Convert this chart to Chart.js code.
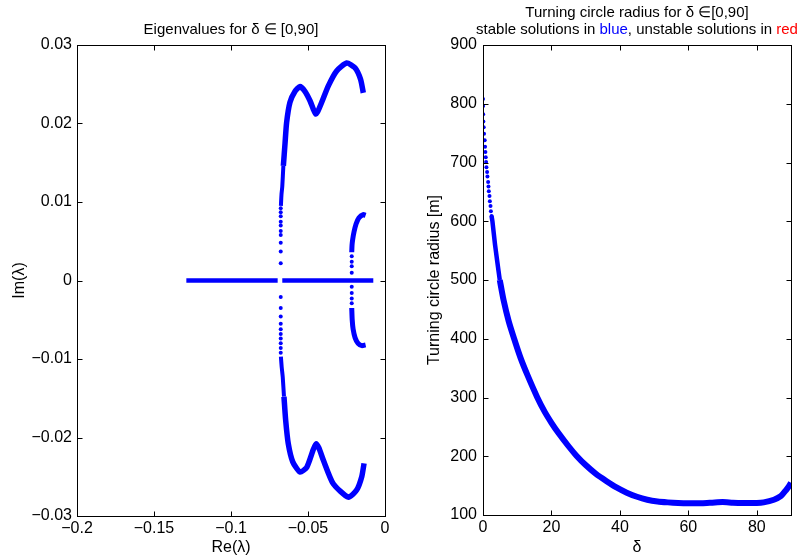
<!DOCTYPE html>
<html>
<head>
<meta charset="utf-8">
<script src="https://cdn.jsdelivr.net/npm/chart.js@4/dist/chart.umd.min.js"></script>
<style>
  body { margin: 0; background: #fff; }
  #wrap { position: relative; width: 798px; height: 558px; overflow: hidden; }
  #left { position: absolute; left: 0; top: 0; }
  #right { position: absolute; left: 400px; top: 0; }
</style>
</head>
<body>
<div id="wrap">
  <canvas id="left" width="400" height="558"></canvas>
  <canvas id="right" width="398" height="558"></canvas>
</div>
<script>
// ---- left plot: eigenvalues (Re, Im) ----
const realA_re = [-0.129, -0.0697];
const realA_im = [0, 0];
const realB_re = [-0.0667, -0.0076];
const realB_im = [0, 0];

const bigUpDots_re = [-0.0677, -0.0677, -0.0677, -0.0677, -0.0677, -0.0677, -0.0677, -0.0677, -0.0677, -0.0677];
const bigUpDots_im = [0.0022, 0.0037, 0.0048, 0.0058, 0.0063, 0.0070, 0.0075, 0.0082, 0.0087, 0.0092];
const bigUpThin_re = [-0.0676, -0.0672, -0.0667, -0.0660];
const bigUpThin_im = [0.0095, 0.0110, 0.0120, 0.0146];
const bigUp_re = [-0.0660, -0.0649, -0.0639, -0.0617, -0.0584, -0.0552, -0.0520, -0.0487, -0.0465, -0.0450, -0.0435, -0.0411, -0.0368, -0.0314, -0.0249, -0.0195, -0.0158, -0.0141];
const bigUp_im = [0.0146, 0.0175, 0.0201, 0.0227, 0.0241, 0.0247, 0.0241, 0.0229, 0.0218, 0.0212, 0.0216, 0.0227, 0.0248, 0.0267, 0.0277, 0.0271, 0.0256, 0.0239];

const bigLoDots_re = [-0.0677, -0.0677, -0.0677, -0.0677, -0.0677, -0.0677, -0.0677, -0.0677, -0.0677, -0.0677];
const bigLoDots_im = [-0.0021, -0.0035, -0.0046, -0.0055, -0.0062, -0.0068, -0.0074, -0.0080, -0.0086, -0.0092];
const bigLoThin_re = [-0.0676, -0.0671, -0.0664, -0.0656];
const bigLoThin_im = [-0.0097, -0.0110, -0.0123, -0.0148];
const bigLo_re = [-0.0656, -0.0645, -0.0628, -0.0599, -0.0552, -0.0508, -0.0465, -0.0448, -0.0430, -0.0400, -0.0336, -0.0238, -0.0184, -0.0151, -0.0136];
const bigLo_im = [-0.0148, -0.0178, -0.0208, -0.0231, -0.0244, -0.0238, -0.0215, -0.0208, -0.0213, -0.0229, -0.0259, -0.0276, -0.0267, -0.0250, -0.0233];

const smallUpDots_re = [-0.0216, -0.0216, -0.0216, -0.0216];
const smallUpDots_im = [0.0010, 0.0018, 0.0024, 0.0031];
const smallUp_re = [-0.0216, -0.0214, -0.0210, -0.0201, -0.0188, -0.0169, -0.0141, -0.0126];
const smallUp_im = [0.0036, 0.0045, 0.0052, 0.0062, 0.0072, 0.0080, 0.0084, 0.0083];

const smallLoDots_re = [-0.0216, -0.0216, -0.0216, -0.0216];
const smallLoDots_im = [-0.0008, -0.0016, -0.0023, -0.0029];
const smallLo_re = [-0.0216, -0.0213, -0.0207, -0.0194, -0.0175, -0.0150, -0.0126];
const smallLo_im = [-0.0035, -0.0050, -0.0062, -0.0073, -0.0080, -0.0083, -0.0082];

const leftXTicks = [-0.2, -0.15, -0.1, -0.05, 0];
const leftXLabels = ['\u22120.2', '\u22120.15', '\u22120.1', '\u22120.05', '0'];
const leftYTicks = [-0.03, -0.02, -0.01, 0, 0.01, 0.02, 0.03];
const leftYLabels = ['\u22120.03', '\u22120.02', '\u22120.01', '0', '0.01', '0.02', '0.03'];

// ---- right plot: turning circle radius vs delta ----
const dotsDelta = [0, 0.02, 0.05, 0.1, 0.2, 0.3, 0.5, 0.6, 0.7, 0.8, 0.9, 1.0, 1.2, 1.3, 1.5, 1.6, 1.7, 1.9, 2.0, 2.2, 2.3, 2.5];
const dotsRadius = [808, 796, 782, 770, 760, 749, 738, 727, 718, 709, 701, 692, 684, 676, 667, 659, 651, 643, 634, 626, 617, 609];
const thinDelta = [2.5, 2.75, 3.5, 4.2, 4.9];
const thinRadius = [609, 600, 561, 530, 500];
const curveDelta = [4.9, 6, 7.5, 9.1, 11, 13, 15.8, 18, 20, 22, 25, 27.3, 30, 33, 36, 39, 42, 45, 48, 51, 54, 57, 60, 64, 67, 70, 73, 76, 80, 82, 85, 87, 88.5, 89.5, 90];
const curveRadius = [500, 466, 430, 400, 367, 338, 301, 276, 257, 240, 217, 201, 185, 170, 158, 147, 138, 131, 126, 123, 121.5, 120.5, 120, 120, 121, 122, 121, 120.5, 120.5, 121.5, 126, 132, 142, 150, 155];

const rightXTicks = [0, 20, 40, 60, 80];
const rightXLabels = ['0', '20', '40', '60', '80'];
const rightYTicks = [100, 200, 300, 400, 500, 600, 700, 800, 900];
const rightYLabels = ['100', '200', '300', '400', '500', '600', '700', '800', '900'];

const BLUE = '#0000ff';
const FONT = 'Liberation Sans, Arial, sans-serif';

function pts(xs, ys) {
    return xs.map((x, i) => ({ x: x, y: ys[i] }));
}
function dots(xs, ys) {
    return { data: pts(xs, ys), showLine: false, pointRadius: 2, pointBackgroundColor: BLUE, pointBorderWidth: 0 };
}
function curve(xs, ys, w) {
    return {
        data: pts(xs, ys), showLine: true, borderColor: BLUE, borderWidth: w,
        borderCapStyle: 'butt', borderJoinStyle: 'round', tension: 0.2,
        pointRadius: 0
    };
}

// box and inner tick marks, MATLAB style
const framePlugin = {
    id: 'frame',
    afterDraw(chart) {
        const ctx = chart.ctx;
        const a = chart.chartArea;
        const L = Math.round(a.left) + 0.5, R = Math.round(a.right) + 0.5;
        const T = Math.round(a.top) + 0.5, B = Math.round(a.bottom) + 0.5;
        ctx.save();
        ctx.strokeStyle = '#000';
        ctx.lineWidth = 1;
        ctx.beginPath();
        chart.scales.x.ticks.forEach(t => {
            const px = Math.round(chart.scales.x.getPixelForValue(t.value)) + 0.5;
            ctx.moveTo(px, B); ctx.lineTo(px, B - 5);
            ctx.moveTo(px, T); ctx.lineTo(px, T + 5);
        });
        chart.scales.y.ticks.forEach(t => {
            const py = Math.round(chart.scales.y.getPixelForValue(t.value)) + 0.5;
            ctx.moveTo(L, py); ctx.lineTo(L + 5, py);
            ctx.moveTo(R, py); ctx.lineTo(R - 5, py);
        });
        ctx.stroke();
        ctx.strokeRect(L, T, R - L, B - T);
        ctx.restore();
    }
};

// multi-coloured titles centred over the plot box
const titlePlugin = {
    id: 'matTitle',
    afterDraw(chart, args, opts) {
        const ctx = chart.ctx;
        const cx = (chart.chartArea.left + chart.chartArea.right) / 2;
        ctx.save();
        ctx.font = '15px ' + FONT;
        ctx.textBaseline = 'middle';
        ctx.textAlign = 'left';
        opts.lines.forEach((segs, i) => {
            const total = segs.reduce((s, g) => s + ctx.measureText(g[0]).width, 0);
            let x = cx - total / 2;
            segs.forEach(g => {
                ctx.fillStyle = g[1];
                ctx.fillText(g[0], x, opts.ys[i]);
                x += ctx.measureText(g[0]).width;
            });
        });
        ctx.restore();
    }
};

function axis(min, max, ticks, labels, fitSize, isX, title, titlePad, tickPad) {
    return {
        type: 'linear', min: min, max: max,
        afterBuildTicks: s => { s.ticks = ticks.map(v => ({ value: v })); },
        afterFit: s => { if (isX) s.height = fitSize; else s.width = fitSize; },
        grid: { display: false, drawTicks: false },
        border: { display: false },
        ticks: {
            autoSkip: false, maxRotation: 0, padding: tickPad,
            color: '#000', font: { family: FONT, size: 16 },
            callback: (v, i) => labels[i]
        },
        title: {
            display: true, text: title, color: '#000',
            font: { family: FONT, size: 16 }, padding: titlePad
        }
    };
}

new Chart(document.getElementById('left'), {
    type: 'scatter',
    data: {
        datasets: [
            curve(realA_re, realA_im, 4.5),
            curve(realB_re, realB_im, 4.5),
            dots(bigUpDots_re, bigUpDots_im),
            curve(bigUpThin_re, bigUpThin_im, 4),
            curve(bigUp_re, bigUp_im, 5.5),
            dots(bigLoDots_re, bigLoDots_im),
            curve(bigLoThin_re, bigLoThin_im, 4),
            curve(bigLo_re, bigLo_im, 5.5),
            dots(smallUpDots_re, smallUpDots_im),
            curve(smallUp_re, smallUp_im, 5),
            dots(smallLoDots_re, smallLoDots_im),
            curve(smallLo_re, smallLo_im, 5)
        ]
    },
    options: {
        responsive: false, animation: false,
        layout: { padding: { left: 0, right: 15, top: 45, bottom: 0 } },
        plugins: {
            legend: { display: false }, tooltip: { enabled: false },
            matTitle: { lines: [[['Eigenvalues for \u03b4 \u2208 [0,90]', '#000']]], ys: [30] }
        },
        scales: {
            x: axis(-0.2, 0, leftXTicks, leftXLabels, 42, true, 'Re(\u03bb)', { top: 0, bottom: 1 }, 3),
            y: axis(-0.03, 0.03, leftYTicks, leftYLabels, 77, false, 'Im(\u03bb)', { top: 10, bottom: 0 }, 5)
        }
    },
    plugins: [framePlugin, titlePlugin]
});

new Chart(document.getElementById('right'), {
    type: 'scatter',
    data: {
        datasets: [
            dots(dotsDelta, dotsRadius),
            curve(thinDelta, thinRadius, 4.5),
            curve(curveDelta, curveRadius, 6)
        ]
    },
    options: {
        responsive: false, animation: false,
        layout: { padding: { left: 0, right: 7, top: 45, bottom: 0 } },
        plugins: {
            legend: { display: false }, tooltip: { enabled: false },
            matTitle: {
                lines: [
                    [['Turning circle radius for \u03b4 \u2208[0,90]', '#000']],
                    [['stable solutions in ', '#000'], ['blue', '#0000ff'], [', unstable solutions in ', '#000'], ['red', '#ff0000']]
                ],
                ys: [13, 30]
            }
        },
        scales: {
            x: axis(0, 90, rightXTicks, rightXLabels, 43, true, '\u03b4', { top: 0, bottom: 1 }, 3),
            y: axis(100, 900, rightYTicks, rightYLabels, 83, false, 'Turning circle radius [m]', { top: 25, bottom: 0 }, 6)
        }
    },
    plugins: [framePlugin, titlePlugin]
});
</script>
</body>
</html>
